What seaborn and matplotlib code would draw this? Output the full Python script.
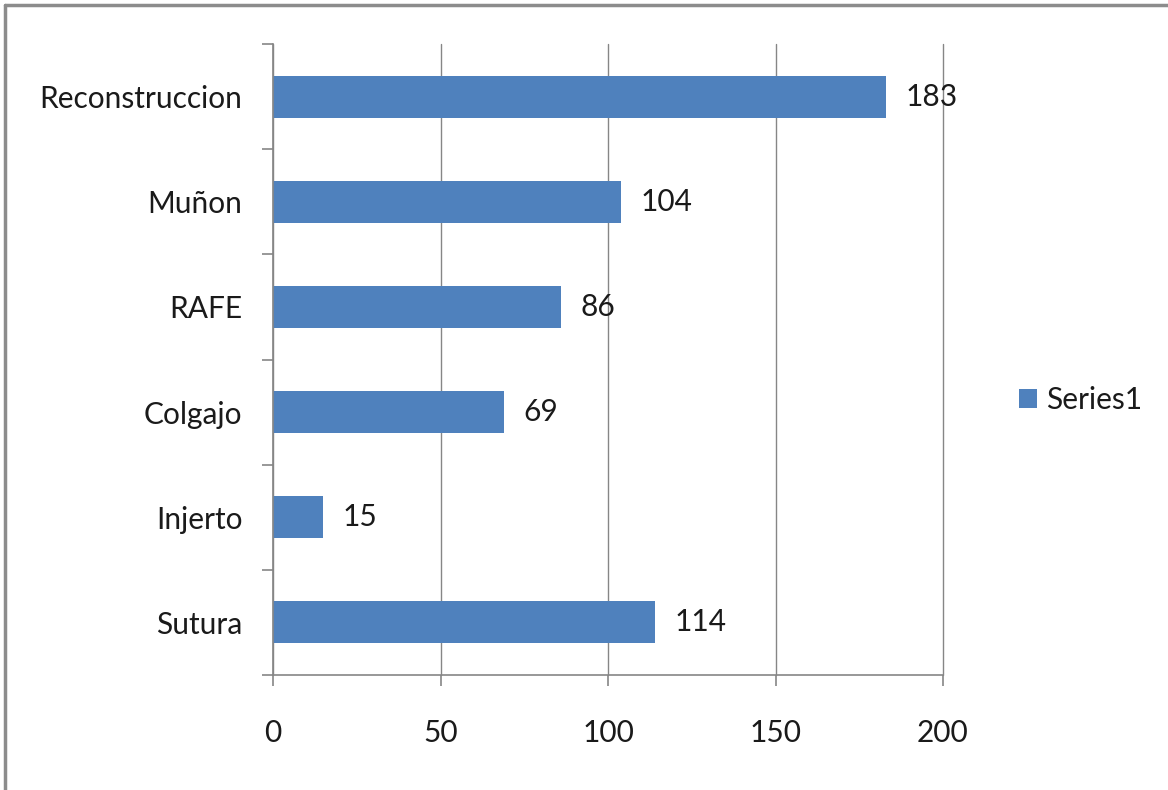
import matplotlib
matplotlib.use("Agg")
import matplotlib.pyplot as plt
from matplotlib.lines import Line2D
import seaborn as sns
import pandas as pd

categories = ["Reconstruccion", "Muñon", "RAFE", "Colgajo", "Injerto", "Sutura"]
values = [183, 104, 86, 69, 15, 114]
x_ticks = [0, 50, 100, 150, 200]
series_name = "Series1"

BAR_COLOR = "#4F81BD"
GRID_COLOR = "#868686"
TEXT_COLOR = "#1a1a1a"
FONT_SIZE = 21.5

sns.set_theme(style="white")
plt.rcParams["font.family"] = ["Lato", "DejaVu Sans"]

df = pd.DataFrame({"category": categories, "value": values})

fig = plt.figure(figsize=(11.68, 7.90), dpi=100)
ax = fig.add_axes([273 / 1168, 1 - 675 / 790, (943 - 273) / 1168, (675 - 44) / 790])

sns.barplot(data=df, y="category", x="value", orient="h", color=BAR_COLOR,
            saturation=1, width=0.4, linewidth=0, ax=ax, label=series_name)

ax.set_xlim(0, 200)
ax.set_ylim(len(categories) - 0.5, -0.5)
ax.set_xticks(x_ticks)
ax.set_xlabel("")
ax.set_ylabel("")

# vertical gridlines, including the one on the right edge
ax.xaxis.grid(True, color=GRID_COLOR, linewidth=1.0)
for gl in ax.get_xgridlines():
    gl.set_clip_on(False)
ax.set_axisbelow(True)

for side in ("top", "right"):
    ax.spines[side].set_visible(False)
for side in ("left", "bottom"):
    ax.spines[side].set_color(GRID_COLOR)
    ax.spines[side].set_linewidth(1.2)

# category boundaries as tick marks on the category axis
ax.set_yticks([i - 0.5 for i in range(len(categories) + 1)], minor=True)
ax.tick_params(axis="y", which="minor", length=8, width=1.2, color=GRID_COLOR, left=True)
ax.tick_params(axis="y", which="major", length=0, pad=22, labelsize=FONT_SIZE, labelcolor=TEXT_COLOR)
ax.tick_params(axis="x", which="major", length=8, width=1.2, color=GRID_COLOR, bottom=True,
               pad=24, labelsize=FONT_SIZE, labelcolor=TEXT_COLOR)

# value labels at the bar ends
for i, v in enumerate(values):
    ax.annotate(f"{v}", xy=(v, i), xytext=(14, 0), textcoords="offset points",
                ha="left", va="center", fontsize=FONT_SIZE, color=TEXT_COLOR)

leg = ax.legend(loc="center left", bbox_to_anchor=(1.113, 0.436), frameon=False,
                fontsize=FONT_SIZE, handlelength=0.6, handleheight=0.6, handletextpad=0.3,
                borderpad=0, borderaxespad=0)
for t in leg.get_texts():
    t.set_color(TEXT_COLOR)

# outer frame (top and left edges)
fig.add_artist(Line2D([5 / 1168, 5 / 1168], [0, 1 - 5 / 790], transform=fig.transFigure,
                      color="#8c8c8c", linewidth=2.5))
fig.add_artist(Line2D([5 / 1168, 1], [1 - 5 / 790, 1 - 5 / 790], transform=fig.transFigure,
                      color="#8c8c8c", linewidth=2.5))

fig.savefig("out.png", dpi=100, facecolor="white")
